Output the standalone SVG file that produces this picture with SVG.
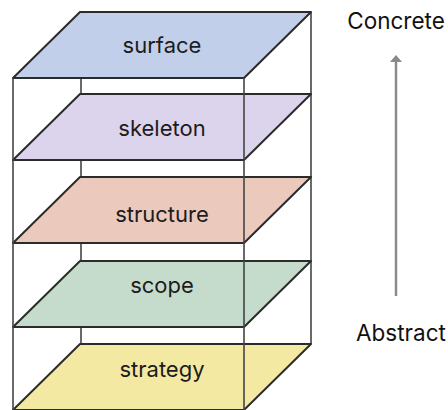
<svg xmlns="http://www.w3.org/2000/svg" width="448" height="410" viewBox="0 0 448 410">
  <style>
    .frame { stroke: #444444; stroke-width: 1.6; fill: none; }
    .plane { stroke: #2b2b2b; stroke-width: 2; stroke-linejoin: round; }
    .label { font-family: Inter, "Liberation Sans", sans-serif; font-size: 22px; fill: #1c1c1c; text-anchor: middle; }
    .axis { font-family: Inter, "Liberation Sans", sans-serif; font-size: 22.5px; fill: #111; text-anchor: middle; }
  </style>
  <defs>
    <!-- one layer sheet, origin at its back-left corner -->
    <path id="sheet" d="M67,0 L298,0 L231,66 L0,66 Z"/>
  </defs>
  <rect width="448" height="410" fill="#ffffff"/>

  <!-- back verticals of the box -->
  <g id="back-frame" class="frame">
    <line x1="81" y1="12" x2="81" y2="344"/>
    <line x1="311" y1="12" x2="311" y2="344"/>
  </g>

  <g id="strategy">
    <use href="#sheet" x="13" y="344" class="plane" fill="#f3e9a3"/>
    <text class="label" x="162" y="377">strategy</text>
  </g>
  <g id="scope">
    <use href="#sheet" x="13" y="261" class="plane" fill="#c5dccd"/>
    <text class="label" x="162" y="293">scope</text>
  </g>
  <g id="structure">
    <use href="#sheet" x="13" y="177" class="plane" fill="#ebc9bc"/>
    <text class="label" x="162" y="222">structure</text>
  </g>
  <g id="skeleton">
    <use href="#sheet" x="13" y="94" class="plane" fill="#dcd3ec"/>
    <text class="label" x="162" y="136">skeleton</text>
  </g>
  <g id="surface">
    <use href="#sheet" x="13" y="12" class="plane" fill="#c1cfea"/>
    <text class="label" x="162" y="53">surface</text>
  </g>

  <!-- front verticals of the box -->
  <g id="front-frame" class="frame">
    <line x1="13" y1="78" x2="13" y2="410"/>
    <line x1="244" y1="78" x2="244" y2="410"/>
  </g>

  <!-- abstraction axis -->
  <g id="connectors">
    <line x1="396" y1="61" x2="396" y2="296" stroke="#8a8a8a" stroke-width="2.5"/>
    <polygon points="396,55 402,62 390,62" fill="#8a8a8a"/>
  </g>
  <g id="concrete">
    <text class="axis" x="396" y="29">Concrete</text>
  </g>
  <g id="abstract">
    <text class="axis" x="401" y="341">Abstract</text>
  </g>
</svg>
